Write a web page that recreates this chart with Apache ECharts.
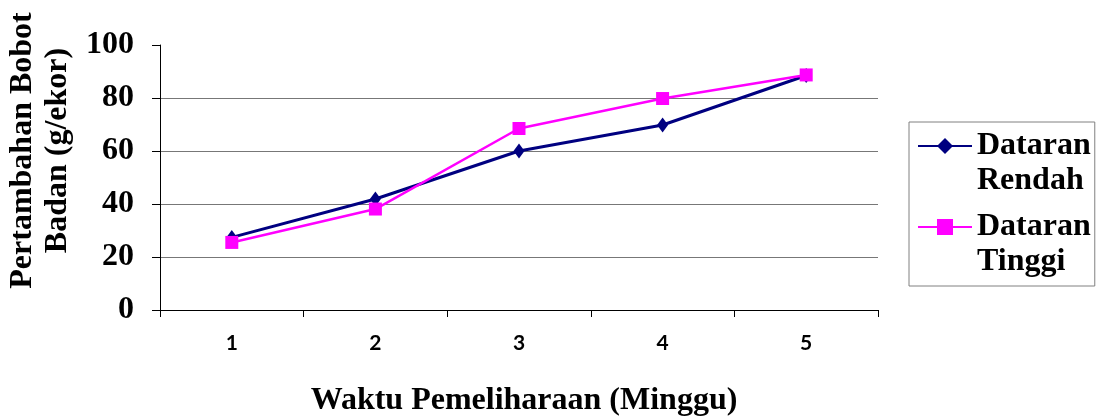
<!DOCTYPE html>
<html>
<head>
<meta charset="utf-8">
<script src="https://cdn.jsdelivr.net/npm/echarts@6/dist/echarts.min.js"></script>
<style>
  html, body { margin: 0; padding: 0; background: #ffffff; }
  #chart { width: 1096px; height: 417px; }
</style>
</head>
<body>
<div id="chart"></div>
<script>
// Weeks of rearing
var weeks = ['1', '2', '3', '4', '5'];
// Body weight gain (g/ekor) per week
var dataranRendah = [27.4, 41.9, 60.0, 69.8, 88.5];
var dataranTinggi = [25.5, 38.1, 68.5, 79.8, 88.7];
var yTicks = { min: 0, max: 100, interval: 20 };

var serif = '"Liberation Serif", "Times New Roman", serif';

var chart = echarts.init(document.getElementById('chart'), null, { renderer: 'canvas' });

chart.setOption({
  animation: false,
  backgroundColor: '#ffffff',
  grid: { left: 160, right: 218, top: 45, bottom: 107, containLabel: false, outerBoundsMode: 'none' },
  legend: {
    orient: 'vertical',
    left: 909,
    top: 122,
    padding: [-28.5, 4, 6.5, 8],
    itemGap: -24,
    itemWidth: 54,
    itemHeight: 20,
    borderColor: '#808080',
    borderWidth: 1,
    borderRadius: 0,
    data: ['Dataran\nRendah', 'Dataran\nTinggi'],
    // leading blank line keeps the marker level with the first text line
    formatter: function (name) { return '\n' + name; },
    textStyle: {
      fontFamily: serif,
      fontWeight: 'bold',
      fontSize: 32,
      color: '#000',
      lineHeight: 35
    }
  },
  xAxis: {
    type: 'category',
    data: weeks,
    boundaryGap: true,
    name: 'Waktu Pemeliharaan (Minggu)',
    nameLocation: 'middle',
    nameGap: 75,
    nameTextStyle: { fontFamily: serif, fontWeight: 'bold', fontSize: 32, color: '#000', padding: [0, 0, 0, 10] },
    axisLine: { lineStyle: { color: '#000', width: 1 } },
    axisTick: { show: true, length: 7, alignWithLabel: false, lineStyle: { color: '#000' } },
    axisLabel: { margin: 23, fontFamily: 'Lato, "Open Sans", sans-serif', fontWeight: 'bold', fontSize: 21, color: '#000' },
    splitLine: { show: false }
  },
  yAxis: {
    type: 'value',
    min: yTicks.min,
    max: yTicks.max,
    interval: yTicks.interval,
    name: 'Pertambahan Bobot\nBadan (g/ekor)',
    nameLocation: 'middle',
    nameRotate: 90,
    nameGap: 80,
    nameTextStyle: {
      fontFamily: serif, fontWeight: 'bold', fontSize: 32, color: '#000',
      lineHeight: 35, padding: [0, 0, 0, 54]
    },
    axisLine: { show: true, lineStyle: { color: '#000', width: 1 } },
    axisTick: { show: true, length: 8, inside: false, lineStyle: { color: '#000' } },
    axisLabel: { margin: 26, fontFamily: serif, fontWeight: 'bold', fontSize: 32, color: '#000' },
    splitLine: { show: true, showMinLine: false, showMaxLine: false, lineStyle: { color: '#777777', width: 1 } }
  },
  series: [
    {
      name: 'Dataran\nRendah',
      type: 'line',
      data: dataranRendah,
      symbol: 'diamond',
      symbolSize: [11, 15],
      lineStyle: { color: '#000080', width: 3 },
      itemStyle: { color: '#000080' },
      z: 2
    },
    {
      name: 'Dataran\nTinggi',
      type: 'line',
      data: dataranTinggi,
      symbol: 'rect',
      symbolSize: 13,
      lineStyle: { color: '#ff00ff', width: 2.5 },
      itemStyle: { color: '#ff00ff' },
      z: 3
    }
  ]
});
</script>
</body>
</html>
